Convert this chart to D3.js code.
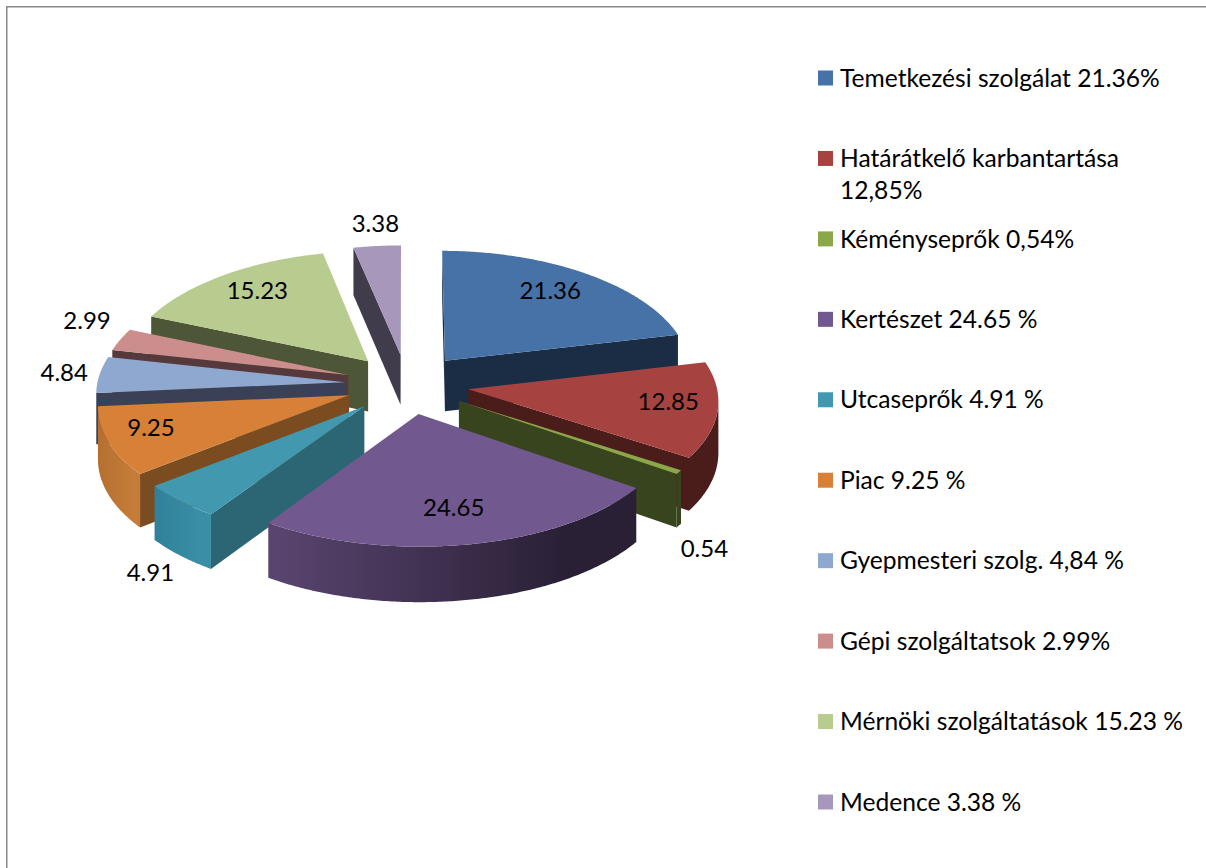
<!DOCTYPE html>
<html>
<head>
<meta charset="utf-8">
<script src="https://cdn.jsdelivr.net/npm/d3@7"></script>
<style>
  html, body { margin: 0; padding: 0; background: #fff; overflow: hidden; }
  text { font-family: Lato, "Open Sans", sans-serif; fill: #000; }
</style>
</head>
<body>
<div id="chart"></div>
<script>
// values as printed on the slices
var values = [21.36, 12.85, 0.54, 24.65, 4.91, 9.25, 4.84, 2.99, 15.23, 3.38];
var valueLabels = ["21.36", "12.85", "0.54", "24.65", "4.91", "9.25", "4.84", "2.99", "15.23", "3.38"];
var legendLabels = [
  "Temetkezési szolgálat 21.36%",
  "Határátkelő karbantartása\n12,85%",
  "Kéményseprők 0,54%",
  "Kertészet 24.65 %",
  "Utcaseprők 4.91 %",
  "Piac 9.25 %",
  "Gyepmesteri szolg. 4,84 %",
  "Gépi szolgáltatsok 2.99%",
  "Mérnöki szolgáltatások 15.23 %",
  "Medence 3.38 %"
];
var topColors = ["#4672a8", "#a64340", "#8aa74a", "#71588f", "#4198af", "#d78038", "#8fa8d0", "#cc8e8d", "#b8cc8f", "#a797bb"];
var wallColors = ["#1b2d45", "#4a1c1a", "#38441d", "#2d2239", "#2c6675", "#7a4c20", "#3a4055", "#55393c", "#4e5638", "#413c4b"];
var rimLeft = ["#1b2d45", "#4a1c1a", "#38441d", "#5a4570", "#30809a", "#b56f30", "#6f86aa", "#a87272", "#8fa070", "#857799"];
var rimRight = ["#1b2d45", "#4a1c1a", "#38441d", "#2a2036", "#3a8ea6", "#c47c38", "#7f96bc", "#b88080", "#9fb07c", "#958aa8"];

// where the data labels sit: radius and turn (degrees) from the slice middle
var labelRadius = [0.77, 0.81, 1.43, 0.74, 1.45, 0.81, 1.136, 1.19, 0.778, 1.205];
var labelTurn = [-1, -2, 18, 0, -12, 2, 0, 5, 2, 1];

var width = 1206, height = 868;
var explode = 0.25, perspX = 0.08, perspY = 0.065, depth = 51;
var valueFont = 24, legendFont = 24.6;

var xScale = d3.scaleLinear().domain([-1, 1]).range([407 - 248, 407 + 248]);
var yScale = d3.scaleLinear().domain([-1, 1]).range([384 - 120, 384 + 120]);

// plane point to screen, z is how far below the top face
function project(u, v, z) {
  var sx = 1 / (1 - perspX * v), sy = 1 / (1 - perspY * v);
  return [xScale(u * sx), yScale(v * sy) + (z || 0) * sy];
}
function slicePoint(d, r, a, z) {
  var mid = (d.startAngle + d.endAngle) / 2;
  var u = explode * Math.sin(mid) + r * Math.sin(a);
  var v = -explode * Math.cos(mid) - r * Math.cos(a);
  return project(u, v, z);
}

var svg = d3.select("#chart").append("svg")
  .attr("width", width)
  .attr("height", height);

// frame, only left and top reach the picture
svg.append("rect").attr("x", 6).attr("y", 6).attr("width", 1.5).attr("height", height - 6).attr("fill", "#888");
svg.append("rect").attr("x", 6).attr("y", 6).attr("width", width - 6).attr("height", 1.5).attr("fill", "#888");

var pie = d3.pie().sort(null).startAngle(0).endAngle(2 * Math.PI)
  .value(function(d) { return d; });
var slices = pie(values);
var line = d3.line();
var defs = svg.append("defs");

// painter's order, back slices first
var order = slices.slice().sort(function(a, b) {
  return -Math.cos((a.startAngle + a.endAngle) / 2) - -Math.cos((b.startAngle + b.endAngle) / 2);
});

function arcPoints(d, z) {
  var pts = [];
  var n = Math.max(2, Math.ceil((d.endAngle - d.startAngle) / 0.01));
  for (var i = 0; i <= n; i++) {
    pts.push(slicePoint(d, 1, d.startAngle + (d.endAngle - d.startAngle) * i / n, z));
  }
  return pts;
}

order.forEach(function(d) {
  var i = d.index;
  var g = svg.append("g").attr("class", "slice");
  var tip = slicePoint(d, 0, 0, 0), tipLow = slicePoint(d, 0, 0, depth);

  // straight walls, only those turned to the viewer
  [[d.startAngle, -1], [d.endAngle, 1]].forEach(function(w) {
    var outer = slicePoint(d, 1, w[0], 0), outerLow = slicePoint(d, 1, w[0], depth);
    if ((outer[0] - tip[0]) * w[1] > 0) {
      g.append("path")
        .attr("d", line([tip, outer, outerLow, tipLow]) + "Z")
        .attr("fill", wallColors[i]);
    }
  });

  // rim, the part of the arc that runs right to left faces us
  var high = arcPoints(d, 0), low = arcPoints(d, depth);
  var keepHigh = [], keepLow = [];
  for (var k = 1; k < high.length; k++) {
    if (high[k][0] < high[k - 1][0]) {
      if (!keepHigh.length) { keepHigh.push(high[k - 1]); keepLow.push(low[k - 1]); }
      keepHigh.push(high[k]); keepLow.push(low[k]);
    }
  }
  if (keepHigh.length) {
    var grad = defs.append("linearGradient").attr("id", "rim" + i);
    grad.append("stop").attr("offset", "0%").attr("stop-color", rimLeft[i]);
    grad.append("stop").attr("offset", "80%").attr("stop-color", rimRight[i]);
    g.append("path")
      .attr("d", line(keepHigh.concat(keepLow.reverse())) + "Z")
      .attr("fill", "url(#rim" + i + ")");
  }

  // top face
  g.append("path")
    .attr("d", line([tip].concat(high)) + "Z")
    .attr("fill", topColors[i]);
});

// data labels
svg.append("g").selectAll("text")
  .data(slices)
  .enter()
  .append("text")
  .attr("text-anchor", "middle")
  .attr("dy", ".3em")
  .attr("dx", -2)
  .attr("font-size", valueFont)
  .attr("x", function(d, i) {
    return slicePoint(d, labelRadius[i], (d.startAngle + d.endAngle) / 2 + labelTurn[i] * Math.PI / 180, 0)[0];
  })
  .attr("y", function(d, i) {
    return slicePoint(d, labelRadius[i], (d.startAngle + d.endAngle) / 2 + labelTurn[i] * Math.PI / 180, 0)[1];
  })
  .text(function(d, i) { return valueLabels[i]; });

// legend
var legendY = d3.scalePoint()
  .domain(d3.range(legendLabels.length))
  .range([78, 802]);

var legend = svg.append("g").selectAll("g")
  .data(legendLabels)
  .enter()
  .append("g")
  .attr("transform", function(d, i) { return "translate(818," + legendY(i) + ")"; });

legend.append("rect")
  .attr("x", 0)
  .attr("y", -7.5)
  .attr("width", 15)
  .attr("height", 15)
  .attr("fill", function(d, i) { return topColors[i]; });

legend.append("text")
  .attr("font-size", legendFont)
  .each(function(d) {
    var label = d3.select(this);
    d.split("\n").forEach(function(part, j) {
      label.append("tspan")
        .attr("x", 22)
        .attr("dy", j === 0 ? ".35em" : "32px")
        .text(part);
    });
  });
</script>
</body>
</html>
